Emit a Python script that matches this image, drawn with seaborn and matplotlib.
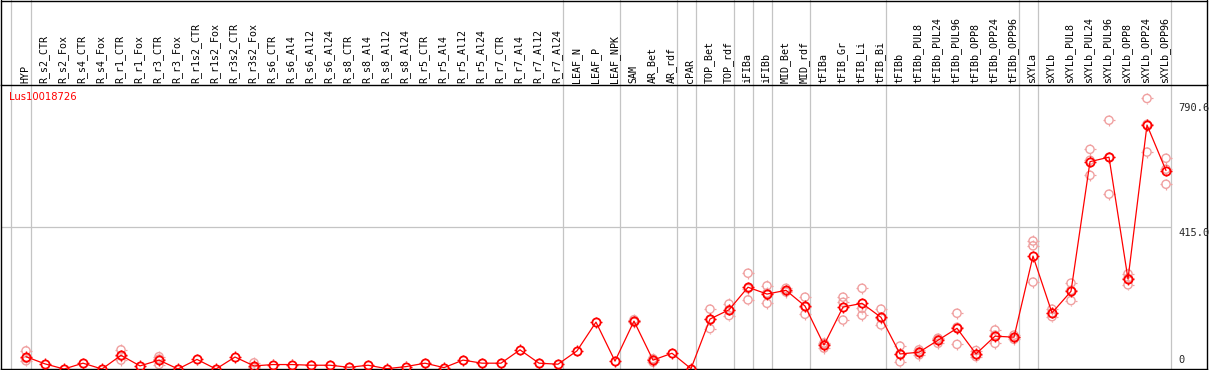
import numpy as np
import pandas as pd
import matplotlib
matplotlib.use("Agg")
import matplotlib.pyplot as plt
import seaborn as sns
from matplotlib.path import Path
from matplotlib.markers import MarkerStyle
from matplotlib.lines import Line2D
from matplotlib import transforms

# ---------------- data ----------------
gene = "Lus10018726"

categories = [
    "HYP", "R_s2_CTR", "R_s2_Fox", "R_s4_CTR", "R_s4_Fox", "R_r1_CTR", "R_r1_Fox",
    "R_r3_CTR", "R_r3_Fox", "R_r1s2_CTR", "R_r1s2_Fox", "R_r3s2_CTR", "R_r3s2_Fox",
    "R_s6_CTR", "R_s6_Al4", "R_s6_Al12", "R_s6_Al24", "R_s8_CTR", "R_s8_Al4",
    "R_s8_Al12", "R_s8_Al24", "R_r5_CTR", "R_r5_Al4", "R_r5_Al12", "R_r5_Al24",
    "R_r7_CTR", "R_r7_Al4", "R_r7_Al12", "R_r7_Al24", "LEAF_N", "LEAF_P", "LEAF_NPK",
    "SAM", "AR_Bet", "AR_rdf", "cPAR", "TOP_Bet", "TOP_rdf", "iFIBa", "iFIBb",
    "MID_Bet", "MID_rdf", "tFIBa", "tFIB_Gr", "tFIB_Li", "tFIB_Bi", "tFIBb",
    "tFIBb_PUL8", "tFIBb_PUL24", "tFIBb_PUL96", "tFIBb_OPP8", "tFIBb_OPP24",
    "tFIBb_OPP96", "sXYLa", "sXYLb", "sXYLb_PUL8", "sXYLb_PUL24", "sXYLb_PUL96",
    "sXYLb_OPP8", "sXYLb_OPP24", "sXYLb_OPP96",
]

means = [
    36, 15, 0, 17, 0, 40, 9, 26, 0, 28, 0, 35, 9,
    13, 13, 11, 11, 5, 11, 1, 7, 17, 4, 26, 17, 17, 56, 17, 14,
    53, 137, 23, 140, 26, 46, 1, 146, 173, 239, 219, 230, 184,
    70, 181, 192, 151, 44, 49, 84, 119, 44, 96, 93,
    330, 164, 227, 606, 619, 263, 713, 580,
]

replicates = {
    "HYP": [53, 24, 31],
    "R_r1_CTR": [56, 26, 38],
    "R_r3_CTR": [36, 13, 29],
    "R_r3s2_Fox": [18, 5, 4],
    "SAM": [144, 137, 139],
    "AR_Bet": [20, 30, 28],
    "TOP_Bet": [175, 118, 145],
    "TOP_rdf": [190, 156, 173],
    "iFIBa": [280, 202, 235],
    "iFIBb": [243, 192, 222],
    "MID_Bet": [236, 225, 229],
    "MID_rdf": [210, 160, 182],
    "tFIBa": [61, 76, 73],
    "tFIB_Gr": [210, 195, 143],
    "tFIB_Li": [236, 177, 157],
    "tFIB_Bi": [175, 129, 149],
    "tFIBb": [67, 21, 44],
    "tFIBb_PUL8": [56, 41, 50],
    "tFIBb_PUL24": [90, 75, 87],
    "tFIBb_PUL96": [163, 72, 122],
    "tFIBb_OPP8": [54, 36, 42],
    "tFIBb_OPP24": [114, 75, 99],
    "tFIBb_OPP96": [99, 87, 93],
    "sXYLa": [374, 360, 254],
    "sXYLb": [175, 153, 164],
    "sXYLb_PUL8": [251, 200, 230],
    "sXYLb_PUL24": [642, 566, 610],
    "sXYLb_PUL96": [727, 511, 619],
    "sXYLb_OPP8": [278, 246, 265],
    "sXYLb_OPP24": [790.6, 634, 715],
    "sXYLb_OPP96": [616, 540, 584],
}

# last category index of each group (separator drawn just after it)
group_ends = [0, 28, 31, 34, 35, 37, 38, 39, 41, 45, 52, 53, 60]

y_max_label = "790.6"
y_mid_value = 415.0
y_top = 830

# ---------------- figure ----------------
sns.set_theme(style="white")
plt.rcParams["font.family"] = ["DejaVu Sans"]

W, H = 1209, 370
fig = plt.figure(figsize=(W / 100, H / 100), dpi=100)
fig.patch.set_facecolor("white")

L, R, T, B = 1, 1207, 85, 369
ax = fig.add_axes([L / W, (H - B) / H, (R - L) / W, (B - T) / H])
x0, dx = 26, 19
xlim = ((L - x0) / dx, (R - x0) / dx)
ax.set_facecolor("white")
for s in ax.spines.values():
    s.set_color("black")
    s.set_linewidth(1.0)

# small tick marks around each circle marker
tick_verts = [(0, 0.74), (0, 1.0), (0, -0.74), (0, -1.0),
              (0.74, 0), (1.0, 0), (-0.74, 0), (-1.0, 0)]
tick_codes = [Path.MOVETO, Path.LINETO] * 4
tick_mk = MarkerStyle(Path(tick_verts, tick_codes))
circle_ms = 5.9      # points (~8 px)
tick_ms = 8.0        # points (~11 px)

ext = 1 + T / (B - T)
sep_x = [-0.8] + [g + 0.24 for g in group_ends]
for xs in sep_x:
    ax.axvline(xs, ymin=0, ymax=ext, color="#c4c4c4", lw=0.9, clip_on=False, zorder=0.5)

ax.hlines(y_mid_value, xlim[0], group_ends[-1] + 0.24,
          color="#c4c4c4", lw=0.9, zorder=0.5)

# replicates
rep_rows = []
for c, vals in replicates.items():
    for v in vals:
        rep_rows.append({"idx": categories.index(c), "value": v})
rep_df = pd.DataFrame(rep_rows)
rep_col = "#f0a0a0"
sns.scatterplot(data=rep_df, x="idx", y="value", marker="o", s=circle_ms ** 2,
                facecolor="none", edgecolor=rep_col, linewidth=1.0,
                ax=ax, zorder=2, legend=False)
sns.scatterplot(data=rep_df, x="idx", y="value", marker=tick_mk, s=tick_ms ** 2,
                facecolor="none", edgecolor=rep_col, linewidth=0.9,
                ax=ax, zorder=2, legend=False)

# mean line
df = pd.DataFrame({"idx": np.arange(len(categories)), "value": means})
sns.lineplot(data=df, x="idx", y="value", color="red", lw=0.9,
             marker="o", markersize=circle_ms, markerfacecolor="none",
             markeredgecolor="red", markeredgewidth=1.3, ax=ax, zorder=3,
             legend=False)
sns.scatterplot(data=df, x="idx", y="value", marker=tick_mk, s=tick_ms ** 2,
                facecolor="none", edgecolor="red", linewidth=1.0,
                ax=ax, zorder=3, legend=False)

ax.set_xlabel("")
ax.set_ylabel("")
ax.set_xticks([])
ax.set_yticks([])
ax.set_xlim(*xlim)
ax.set_ylim(0, y_top)

# category labels
trans = transforms.blended_transform_factory(ax.transData, ax.transAxes)
for i, c in enumerate(categories):
    ax.text(i - 0.05, 1 + 2 / (B - T), c, rotation=90, ha="center", va="bottom",
            transform=trans, family="DejaVu Sans Mono", fontsize=7.2,
            color="black", clip_on=False)

# gene name
ax.text((9 - x0) / dx, (B - 97) / (B - T), gene, color="red", fontsize=7.2,
        ha="left", va="center", transform=trans, family="DejaVu Sans")

# y value labels on right
xl = (1178 - x0) / dx
ax.annotate(y_max_label, xy=(xl, float(y_max_label)), xytext=(0, -3),
            textcoords="offset points", ha="left", va="top",
            family="DejaVu Sans Mono", fontsize=7.5, annotation_clip=False)
ax.annotate(f"{y_mid_value:.1f}", xy=(xl, y_mid_value), xytext=(0, -1),
            textcoords="offset points", ha="left", va="top",
            family="DejaVu Sans Mono", fontsize=7.5, annotation_clip=False)
ax.annotate("0", xy=(xl, 0), xytext=(0, 3), textcoords="offset points",
            ha="left", va="bottom", family="DejaVu Sans Mono", fontsize=7.5,
            annotation_clip=False)

# outer frame in the label area
def fx(px):
    return px / W

def fy(py):
    return 1 - py / H

for (xa, ya, xb, yb) in [(L, 0.5, R, 0.5), (L, 0, L, T), (R, 0, R, T)]:
    fig.add_artist(Line2D([fx(xa), fx(xb)], [fy(ya), fy(yb)],
                          color="black", lw=1.0, transform=fig.transFigure))

fig.savefig("out.png", dpi=100, facecolor="white")
